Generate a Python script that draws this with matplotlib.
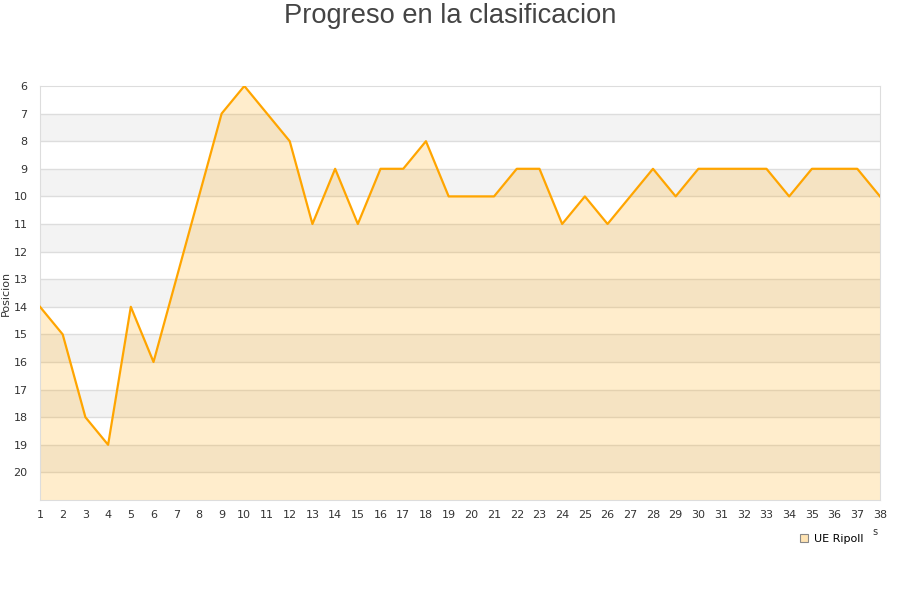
import matplotlib
matplotlib.use("Agg")
import matplotlib.pyplot as plt

jornadas = list(range(1, 39))
posicion = [14, 15, 18, 19, 14, 16, 13, 10, 7, 6,
            7, 8, 11, 9, 11, 9, 9, 8, 10, 10,
            10, 9, 9, 11, 10, 11, 10, 9, 10, 9,
            9, 9, 9, 10, 9, 9, 9, 10]
equipo = "UE Ripoll"
y_ticks = list(range(6, 21))

fig = plt.figure(figsize=(9, 6), dpi=100)
ax = fig.add_axes([40 / 900, 100 / 600, 840 / 900, 414 / 600])

# alternating bands
for k in range(6, 21):
    ax.axhspan(k, k + 1, color="#f3f3f3" if k % 2 == 1 else "white", lw=0, zorder=0)
for k in range(7, 21):
    ax.axhline(k, color="#dddddd", lw=1, zorder=1)

ax.fill_between(jornadas, posicion, 21, color="#ffa500", alpha=0.2, lw=0, zorder=2)
ax.plot(jornadas, posicion, color="#ffa500", lw=1.6, zorder=3)

ax.set_xlim(1, 38)
ax.set_ylim(21, 6)
ax.set_xticks(jornadas)
ax.set_yticks(y_ticks)
ax.tick_params(length=0, labelsize=8, colors="#333333", pad=7)
ax.tick_params(axis="y", pad=9)
for s in ax.spines.values():
    s.set_color("#dddddd")

ax.set_ylabel("Posicion", fontsize=8, color="#333333")
ax.yaxis.set_label_coords(11 / 900, 1 - 293 / 600, transform=fig.transFigure)

fig.text(0.5, 1 - 16 / 600, "Progreso en la clasificacion", ha="center", va="center",
         fontsize=19.6, color="#444444", family="Liberation Sans")
fig.text(875 / 900, 1 - 532 / 600, "s", ha="center", va="center", fontsize=7, color="#333333")

ax.plot([], [], marker="s", ls="none", markersize=6, markerfacecolor="#ffe4b3",
        markeredgecolor="#888888", markeredgewidth=0.8, label=equipo)
ax.legend(loc="center", bbox_to_anchor=(830 / 900, 1 - 539 / 600),
          bbox_transform=fig.transFigure, frameon=False, fontsize=8,
          handletextpad=0.3, handlelength=1.2)

fig.savefig("out.png", dpi=100)
